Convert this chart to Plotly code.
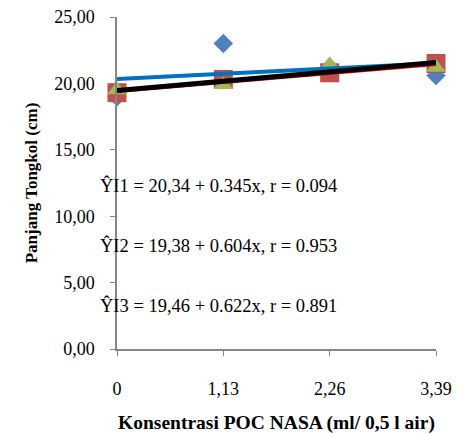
import plotly.graph_objects as go

x_vals = [0, 1.13, 2.26, 3.39]
x_tick_labels = ["0", "1,13", "2,26", "3,39"]
y_tick_vals = [0, 5, 10, 15, 20, 25]
y_tick_labels = ["0,00", "5,00", "10,00", "15,00", "20,00", "25,00"]

y1 = [19.0, 23.0, 21.2, 20.6]
y2 = [19.3, 20.3, 20.8, 21.5]
y3 = [19.5, 19.9, 21.4, 21.2]

intercepts = [20.34, 19.38, 19.46]
slopes = [0.345, 0.604, 0.622]
equations = [
    "ŶI1 = 20,34 + 0.345x, r = 0.094",
    "ŶI2 = 19,38 + 0.604x, r = 0.953",
    "ŶI3 = 19,46 + 0.622x, r = 0.891",
]
eq_y = [12.3, 7.8, 3.25]

SERIF = "Liberation Serif, Times New Roman, serif"

fig = go.Figure()
fig.add_trace(go.Scatter(x=x_vals, y=y1, mode="markers", cliponaxis=False,
                         marker=dict(symbol="diamond", size=15, color="#4F81BD")))
fig.add_trace(go.Scatter(x=x_vals, y=y2, mode="markers", cliponaxis=False,
                         marker=dict(symbol="square", size=19, color="#C0504D")))
fig.add_trace(go.Scatter(x=x_vals, y=y3, mode="markers", cliponaxis=False,
                         marker=dict(symbol="triangle-up", size=17, color="#9BBB59")))

line_styles = [("#0070C0", 4), ("#E00000", 3), ("#000000", 5)]
xs = [x_vals[0], x_vals[-1]]
for (a, b), (c, w) in zip(zip(intercepts, slopes), line_styles):
    fig.add_trace(go.Scatter(x=xs, y=[a + b * xx for xx in xs], mode="lines",
                             cliponaxis=False, line=dict(color=c, width=w)))

for txt, yy in zip(equations, eq_y):
    fig.add_annotation(x=0, y=yy, xref="x", yref="y", text=txt, showarrow=False,
                       xanchor="left", xshift=-19, yanchor="middle",
                       font=dict(family=SERIF, size=18.5, color="black"))

fig.update_layout(
    width=459, height=434,
    margin=dict(l=117, r=23, t=17, b=85),
    paper_bgcolor="white", plot_bgcolor="white",
    showlegend=False,
    font=dict(family=SERIF, size=17, color="black"),
)
fig.update_xaxes(range=[0, 3.39], tickvals=x_vals, ticktext=x_tick_labels,
                 automargin=False,
                 showgrid=False, zeroline=False, showline=True, linecolor="#868686",
                 linewidth=1.5, ticks="outside", ticklen=5, tickcolor="#868686",
                 ticklabelstandoff=18,
                 tickfont=dict(family=SERIF, size=18, color="black"),
                 title=dict(text="<b>Konsentrasi POC NASA (ml/ 0,5 l air)</b>",
                            font=dict(family=SERIF, size=19.5, color="black"), standoff=17))
fig.update_yaxes(range=[0, 25], tickvals=y_tick_vals, ticktext=y_tick_labels,
                 automargin=False,
                 showgrid=False, zeroline=False, showline=True, linecolor="#868686",
                 linewidth=1.5, ticks="outside", ticklen=5, tickcolor="#868686",
                 ticklabelstandoff=12,
                 tickfont=dict(family=SERIF, size=18, color="black"),
                 title=dict(text="<b>Panjang Tongkol (cm)</b>",
                            font=dict(family=SERIF, size=17, color="black"),
                            standoff=12))

fig.write_html("out.html")
